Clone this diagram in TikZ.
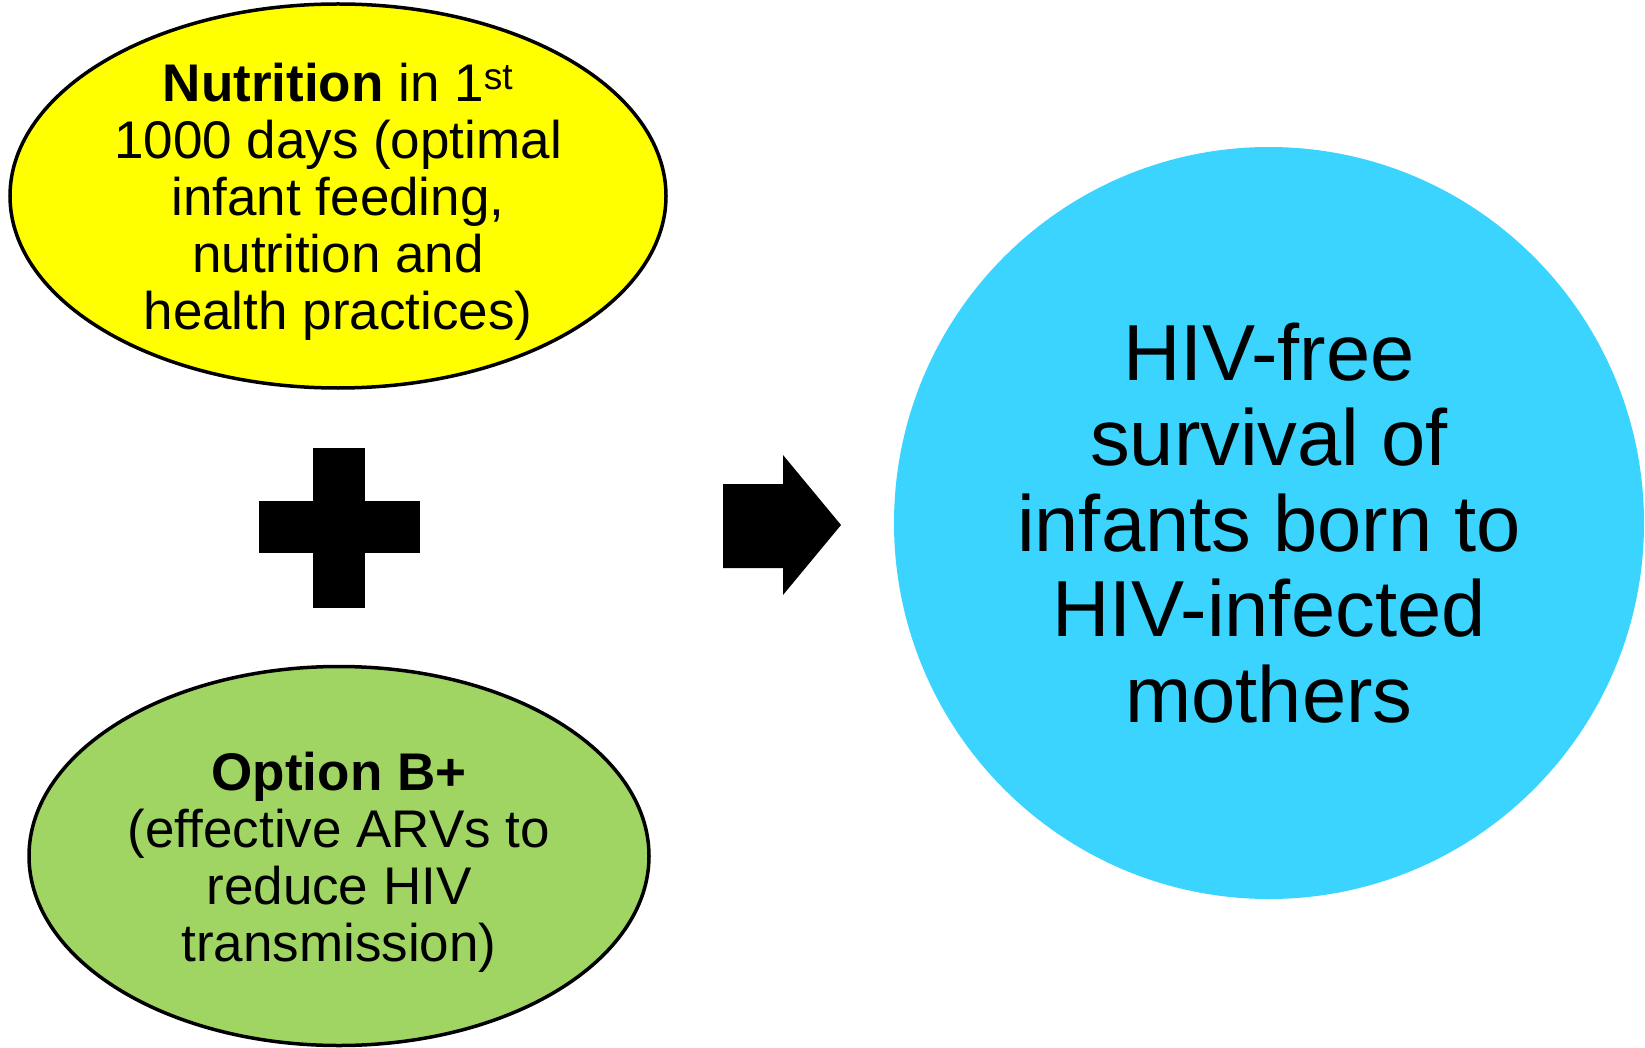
\documentclass[tikz,border=0pt]{standalone}
\usepackage{fontspec}
\setmainfont{Liberation Sans}
\usepackage{tikz}
\usetikzlibrary{shapes.geometric}
\definecolor{nutriyellow}{RGB}{255, 255, 0}
\definecolor{optiongreen}{RGB}{160, 213, 99}
\definecolor{outcomeblue}{RGB}{58, 212, 255}

\begin{document}
\begin{tikzpicture}[x=1pt, y=-1pt,
    bubble/.style={ellipse, inner sep=0pt},
    smalltext/.style={align=center, font=\fontsize{53}{57}\selectfont},
    bigtext/.style={align=center, font=\fontsize{79.5}{85.5}\selectfont}]
    \useasboundingbox (0,0) rectangle (1645,1048);

    % Nutrition
    \node[bubble, draw, line width=3.5pt, fill=nutriyellow,
          minimum width=656pt, minimum height=384pt] (nutrition) at (338,196) {};
    \node[smalltext] (nutritiontext) at ([yshift=-6pt]nutrition.center)
        {\textbf{Nutrition} in 1\raisebox{3pt}{\textsuperscript{st}}\\1000 days (optimal\\infant feeding,\\nutrition and\\health practices)};

    % Plus sign
    \fill (259,501) rectangle (420,553);
    \fill (313,448) rectangle (365,608);

    % Option B+
    \node[bubble, draw, line width=3.5pt, fill=optiongreen,
          minimum width=620pt, minimum height=379pt] (option) at (339,856) {};
    \node[smalltext] (optiontext) at ([yshift=-6pt]option.center)
        {\textbf{Option B+}\\(effective ARVs to\\reduce HIV\\transmission)};

    % Block arrow
    \fill (723,484) -- (783,484) -- (783,455) -- (841,525)
        -- (783,595) -- (783,568) -- (723,568) -- cycle;

    % Outcome
    \node[bubble, fill=outcomeblue, minimum width=750pt, minimum height=752pt] (outcome) at (1269,523) {};
    \node[bigtext] (outcometext) at (outcome.center)
        {HIV-free\\survival of\\infants born to\\HIV-infected\\mothers};
\end{tikzpicture}
\end{document}
